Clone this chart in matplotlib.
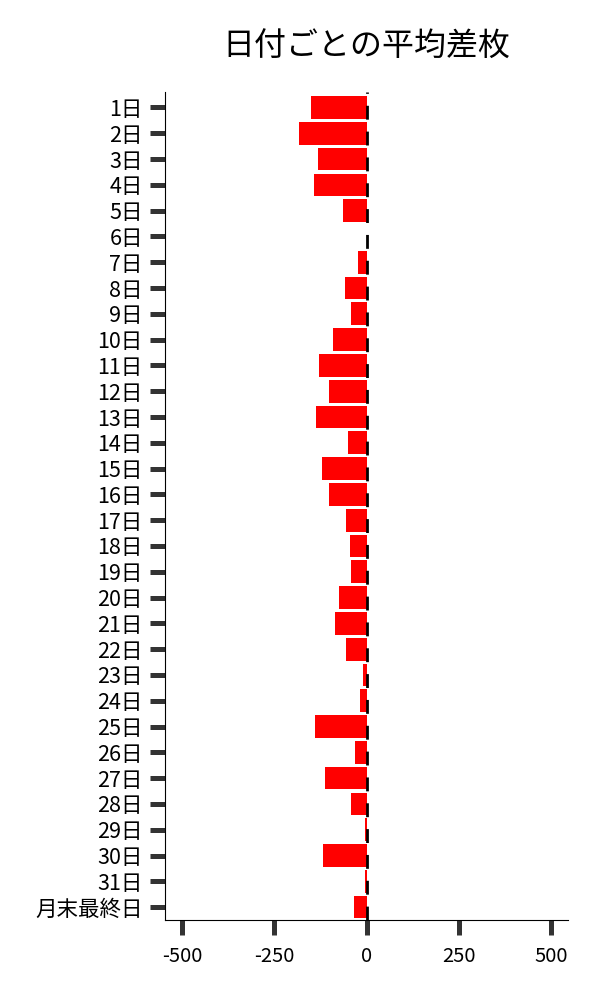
import matplotlib
matplotlib.use("Agg")
import matplotlib.pyplot as plt

plt.rcParams['font.family'] = ['Noto Sans CJK JP', 'DejaVu Sans']
plt.rcParams['axes.unicode_minus'] = False

days = [f"{i}日" for i in range(1, 32)] + ["月末最終日"]
avg_diff = [-151, -184, -132, -143, -65, 0, -23, -59, -43, -92,
            -130, -103, -138, -51, -122, -103, -57, -46, -43, -76,
            -86, -57, -11, -19, -141, -32, -114, -43, -5, -119,
            -3, -35]

fig = plt.figure(figsize=(6, 10), dpi=100)
ax = fig.add_axes([0.275, 0.08, 0.672, 0.828])

ax.barh(range(len(days)), avg_diff, height=0.88, color="red")
# 0 の位置に破線
ax.axvline(0, color="black", linewidth=2, linestyle=(0, (5, 4.3)))

ax.set_yticks(range(len(days)))
ax.set_yticklabels(days, fontsize=15.5)
ax.set_ylim(len(days) - 0.5, -0.6)
ax.set_xlim(-546, 546)
ax.set_xticks([-500, -250, 0, 250, 500])
ax.tick_params(axis="x", labelsize=14.5, length=11, width=3.6, color="#333333", pad=8)
ax.tick_params(axis="y", length=11, width=3.6, color="#333333", pad=5)

for s in ["top", "right"]:
    ax.spines[s].set_visible(False)

ax.set_title("日付ごとの平均差枚", fontsize=23, pad=26)

fig.savefig("out.png", dpi=100)
